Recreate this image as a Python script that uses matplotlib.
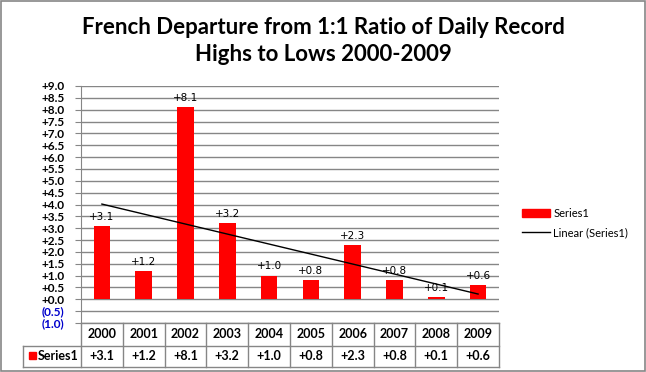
import matplotlib.pyplot as plt
import numpy as np
from matplotlib.lines import Line2D
from matplotlib.patches import Patch, Rectangle

plt.rcParams["font.family"] = ["Lato", "DejaVu Sans"]

# Data
years = ["2000", "2001", "2002", "2003", "2004", "2005", "2006", "2007", "2008", "2009"]
values = [3.1, 1.2, 8.1, 3.2, 1.0, 0.8, 2.3, 0.8, 0.1, 0.6]
series_name = "Series1"
title = "French Departure from 1:1 Ratio of Daily Record\nHighs to Lows 2000-2009"

W, H = 646, 372
GRID = "#868686"
RED = "#FF0000"

# plot area in pixels
X0, X1 = 81, 499
Y_TOP, Y_BOT = 86, 323
TAB_LEFT = 23
ROW1, ROW2, ROW3 = 323, 346, 367


def fmt(v):
    if v < 0:
        return f"({abs(v):.1f})"
    return f"+{v:.1f}"


fig = plt.figure(figsize=(W / 100, H / 100), dpi=100)

# pixel overlay for border and data table
ov = fig.add_axes([0, 0, 1, 1], zorder=0)
ov.set_xlim(0, W)
ov.set_ylim(H, 0)
ov.axis("off")
ov.add_patch(Rectangle((0.5, 0.5), W - 1.5, H - 1.5, fill=False, ec=GRID, lw=1.2))

ax = fig.add_axes([X0 / W, 1 - Y_BOT / H, (X1 - X0) / W, (Y_BOT - Y_TOP) / H], zorder=1)
ax.patch.set_alpha(0)

x = np.arange(len(values))
ax.bar(x, values, width=0.4, color=RED, zorder=3, label=series_name)

coef = np.polyfit(x, values, 1)
ax.plot(x, np.polyval(coef, x), color="black", lw=1, zorder=4,
        label=f"Linear ({series_name})")

for xi, v in zip(x, values):
    ax.annotate(fmt(v), (xi, v), xytext=(0, 3), textcoords="offset points",
                ha="center", va="bottom", fontsize=7.5, family="DejaVu Sans", zorder=5)

ax.set_xlim(-0.5, len(values) - 0.5)
ax.set_ylim(-1, 9)
yt = np.arange(-1, 9.01, 0.5)
ax.set_yticks(yt)
ax.set_yticklabels([fmt(v) for v in yt], fontsize=8.5, fontweight="bold")
for lab, v in zip(ax.get_yticklabels(), yt):
    if v < 0:
        lab.set_color("#0000CC")
ax.tick_params(axis="y", length=4, color=GRID, pad=8)
ax.set_xticks([])
ax.yaxis.grid(True, color=GRID, lw=1)
ax.set_axisbelow(True)
for s in ["top", "right", "bottom"]:
    ax.spines[s].set_visible(False)
ax.spines["left"].set_color(GRID)

# data table
col_w = (X1 - X0) / len(years)
ov.plot([X0, X1], [ROW1, ROW1], color=GRID, lw=1)
ov.plot([TAB_LEFT, X1], [ROW2, ROW2], color=GRID, lw=1)
ov.plot([TAB_LEFT, X1], [ROW3, ROW3], color=GRID, lw=1)
ov.plot([TAB_LEFT, TAB_LEFT], [ROW2, ROW3], color=GRID, lw=1)
for i in range(len(years) + 1):
    xc = X0 + i * col_w
    ov.plot([xc, xc], [ROW1, ROW3], color=GRID, lw=1)
for i, (yr, v) in enumerate(zip(years, values)):
    cx = X0 + (i + 0.5) * col_w
    ov.text(cx, (ROW1 + ROW2) / 2, yr, ha="center", va="center",
            fontsize=9, fontweight="bold")
    ov.text(cx, (ROW2 + ROW3) / 2, fmt(v), ha="center", va="center",
            fontsize=9, fontweight="bold")
ov.add_patch(Rectangle((29, 352), 7, 7, color=RED))
ov.text(38, (ROW2 + ROW3) / 2, series_name, ha="left", va="center",
        fontsize=9, fontweight="bold")

fig.text(0.5, 1 - 41 / H, title, ha="center", va="center", fontsize=16,
         fontweight="bold", linespacing=1.3)

handles = [Patch(color=RED), Line2D([0], [0], color="black", lw=1)]
fig.legend(handles, [series_name, f"Linear ({series_name})"],
           loc="upper left", bbox_to_anchor=(512 / W, 1 - 198 / H),
           frameon=False, fontsize=8, handlelength=2.5, handleheight=0.7,
           labelspacing=0.75, handletextpad=0.3)

fig.savefig("out.png", dpi=100)
